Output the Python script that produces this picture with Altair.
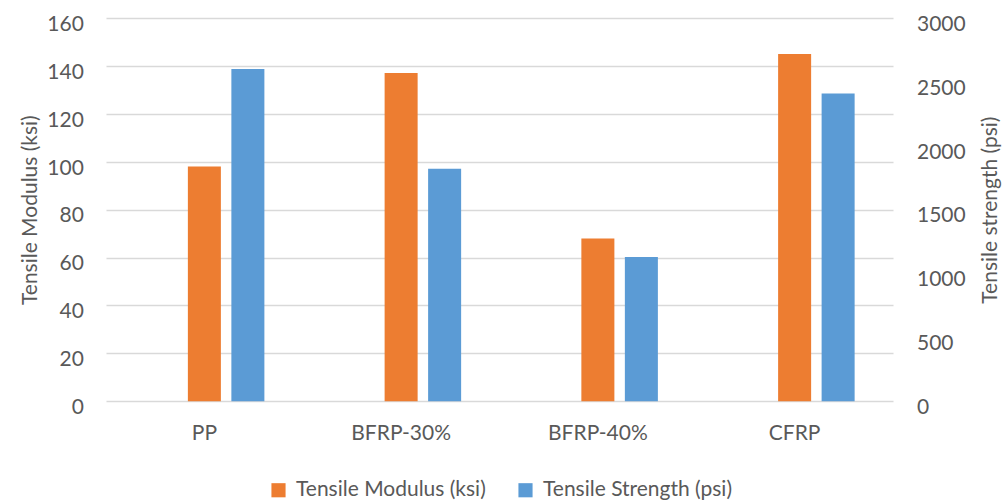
import altair as alt
import pandas as pd

# Materials tested and their measured properties
materials = ["PP", "BFRP-30%", "BFRP-40%", "CFRP"]
modulus_ksi = [98, 137, 68, 145]
strength_psi = [2600, 1820, 1130, 2410]

series_mod = "Tensile Modulus (ksi)"
series_str = "Tensile Strength (psi)"

left_ticks = [0, 20, 40, 60, 80, 100, 120, 140, 160]
right_ticks = [0, 500, 1000, 1500, 2000, 2500, 3000]

ORANGE = "#ED7D31"
BLUE = "#5B9BD5"
TEXT = "#595959"
GRID = "#D9D9D9"
FONT = "Lato"
FS = 21

df = pd.DataFrame({
    "material": materials * 2,
    "series": [series_mod] * len(materials) + [series_str] * len(materials),
    "value": modulus_ksi + strength_psi,
})

W, H = 787, 383.3

# three slots inside each category: an empty one on the left, so the
# modulus bar sits on the category centre and the strength bar to its right
offset_slots = ["(spacer)", series_mod, series_str]

base = alt.Chart(df).encode(
    x=alt.X(
        "material:N",
        sort=materials,
        scale=alt.Scale(paddingInner=0, paddingOuter=0),
        axis=alt.Axis(
            title=None, domain=False, ticks=False, tickSize=0,
            labelAngle=0, labelFont=FONT, labelFontSize=FS, labelColor=TEXT,
            labelBaseline="alphabetic", labelPadding=38.7,
        ),
    ),
    xOffset=alt.XOffset(
        "series:N",
        scale=alt.Scale(domain=offset_slots, paddingInner=0.241, paddingOuter=0.882),
    ),
    color=alt.Color(
        "series:N",
        scale=alt.Scale(domain=[series_mod, series_str], range=[ORANGE, BLUE]),
        legend=alt.Legend(
            title=None, orient="none", direction="horizontal",
            legendX=162, legendY=461.5, padding=0,
            symbolType="square", symbolSize=200, symbolStrokeWidth=0,
            labelFont=FONT, labelFontSize=FS, labelColor=TEXT, labelLimit=400,
            labelOffset=7, columnPadding=29,
        ),
    ),
)

modulus = base.transform_filter(alt.datum.series == series_mod).mark_bar().encode(
    y=alt.Y(
        "value:Q",
        scale=alt.Scale(domain=[0, 160], nice=False),
        axis=alt.Axis(
            title="Tensile Modulus (ksi)", values=left_ticks, format="d",
            orient="left", domain=False, ticks=False, tickSize=0,
            grid=True, gridColor=GRID, gridWidth=1.5,
            labelFont=FONT, labelFontSize=FS, labelColor=TEXT,
            labelAlign="right", labelBaseline="alphabetic",
            labelPadding=22.7, labelOffset=12.3,
            titleFont=FONT, titleFontSize=FS, titleFontWeight="normal",
            titleColor=TEXT, titleAngle=270, titleAlign="center",
            titleBaseline="alphabetic", titleX=-69.5, titleY=H / 2,
        ),
    )
)

strength = base.transform_filter(alt.datum.series == series_str).mark_bar().encode(
    y=alt.Y(
        "value:Q",
        scale=alt.Scale(domain=[0, 3000], nice=False),
        axis=alt.Axis(
            title="Tensile strength (psi)", values=right_ticks, format="d",
            orient="right", domain=False, ticks=False, tickSize=0, grid=False,
            labelFont=FONT, labelFontSize=FS, labelColor=TEXT,
            labelAlign="left", labelBaseline="alphabetic",
            labelPadding=23.5, labelOffset=12.3,
            titleFont=FONT, titleFontSize=FS, titleFontWeight="normal",
            titleColor=TEXT, titleAngle=270, titleAlign="center",
            titleBaseline="alphabetic", titleX=104, titleY=H / 2,
        ),
    )
)

chart = (
    alt.layer(modulus, strength)
    .resolve_scale(y="independent")
    .properties(
        width=W,
        height=H,
        autosize=alt.AutoSizeParams(type="none"),
        padding={"left": 106, "top": 18, "right": 110, "bottom": 101},
        background="white",
    )
    .configure_view(stroke=None)
)

chart.save("out.html", embed_options={"renderer": "svg", "actions": False})
